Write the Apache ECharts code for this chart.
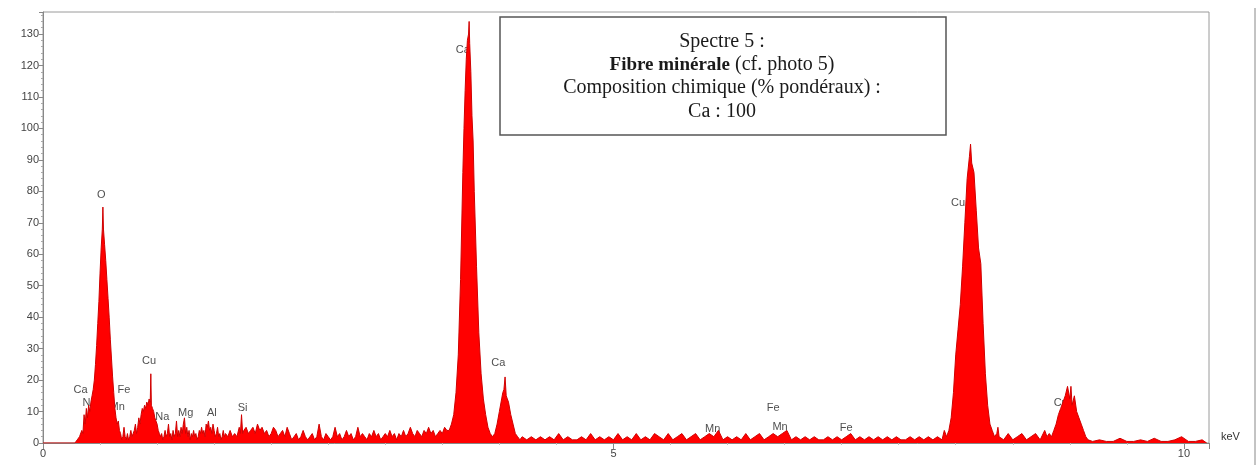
<!DOCTYPE html>
<html>
<head>
<meta charset="utf-8">
<script src="https://cdn.jsdelivr.net/npm/echarts@6/dist/echarts.min.js"></script>
<style>
html,body{margin:0;padding:0;background:#fff}
#main{width:1260px;height:465px}
</style>
</head>
<body>
<div id="main"></div>
<script>
// spectre EDX : [keV, coups]
var lowEnergy = [
    [0,0],[0.28,0],[0.30,1],[0.32,2],[0.34,4],[0.35,3],[0.36,9],[0.37,6],[0.38,11],[0.39,8],
    [0.40,12],[0.41,10],[0.42,13],[0.43,15],[0.44,17],[0.45,20],[0.46,25],[0.47,31],[0.48,38],[0.49,45],
    [0.50,54],[0.51,62],[0.52,68],[0.525,75],[0.53,68],[0.54,63],[0.55,58],[0.56,52],[0.57,46],[0.58,40],
    [0.59,33],[0.60,27],[0.61,21],[0.62,16],[0.63,11],[0.64,8],[0.65,6],[0.66,7],[0.67,4],[0.68,3],
    [0.69,1],[0.70,2],[0.71,5],[0.72,2],[0.73,1],[0.74,3],[0.75,1],[0.76,2],[0.77,4],[0.78,2],
    [0.79,3],[0.80,4],[0.81,6],[0.82,3],[0.83,5],[0.84,8],[0.85,6],[0.86,9],[0.87,11],[0.88,10],
    [0.89,12],[0.90,11],[0.91,13],[0.92,12],[0.93,14],[0.94,13],[0.945,22],[0.95,12],[0.96,11],[0.97,10],
    [0.98,8],[0.99,7],[1.00,6],[1.01,4],[1.02,3],[1.03,2],[1.04,3],[1.05,1],[1.06,2],[1.07,4],
    [1.08,2],[1.09,3],[1.10,6],[1.11,2],[1.12,3],[1.13,1],[1.14,4],[1.15,2],[1.16,3],[1.17,7],
    [1.18,2],[1.19,4],[1.20,2],[1.21,5],[1.22,3],[1.23,6],[1.24,8],[1.25,3],[1.26,5],[1.27,2],
    [1.28,4],[1.29,1],[1.30,3],[1.31,2],[1.32,4],[1.33,2],[1.34,3],[1.35,1],[1.36,2],[1.37,4],
    [1.38,3],[1.39,5],[1.40,3],[1.41,4],[1.42,2],[1.43,6],[1.44,5],[1.45,7],[1.46,4],[1.47,5],
    [1.48,3],[1.49,6],[1.50,4],[1.51,2],[1.52,3],[1.53,5],[1.54,2],[1.55,3],[1.56,1],[1.57,2],
    [1.58,4],[1.59,2],[1.60,3],[1.62,2],[1.64,4],[1.66,2],[1.68,3],[1.70,2],[1.72,5],[1.73,3],
    [1.74,9],[1.75,3],[1.76,4],[1.78,5],[1.80,3]
];
var caRegion = [
    [1.82,4],[1.84,5],[1.86,3],[1.88,6],[1.90,4],[1.92,5],[1.94,3],[1.96,4],[1.98,2],[2.00,3],
    [2.02,5],[2.04,4],[2.06,2],[2.08,3],[2.10,4],[2.12,2],[2.14,5],[2.16,3],[2.18,1],[2.20,2],
    [2.22,3],[2.24,1],[2.26,2],[2.28,4],[2.30,2],[2.32,1],[2.34,2],[2.36,3],[2.38,1],[2.40,2],
    [2.42,6],[2.44,2],[2.46,1],[2.48,3],[2.50,2],[2.52,1],[2.54,2],[2.56,5],[2.58,2],[2.60,3],
    [2.62,1],[2.64,2],[2.66,4],[2.68,2],[2.70,3],[2.72,1],[2.74,2],[2.76,5],[2.78,2],[2.80,3],
    [2.82,2],[2.84,1],[2.86,3],[2.88,2],[2.90,4],[2.92,2],[2.94,3],[2.96,1],[2.98,2],[3.00,3],
    [3.02,2],[3.04,4],[3.06,2],[3.08,3],[3.10,1],[3.12,3],[3.14,2],[3.16,4],[3.18,2],[3.20,3],
    [3.22,5],[3.24,3],[3.26,2],[3.28,4],[3.30,3],[3.32,2],[3.34,4],[3.36,3],[3.38,5],[3.40,3],
    [3.42,4],[3.44,2],[3.46,3],[3.48,4],[3.50,3],[3.52,5],[3.54,4],[3.56,4],[3.58,6],[3.60,9],
    [3.62,16],[3.64,28],[3.66,52],[3.68,86],[3.69,100],[3.70,112],[3.71,122],[3.72,128],[3.73,130],[3.735,134],
    [3.74,127],[3.75,118],[3.76,104],[3.77,96],[3.78,80],[3.80,56],[3.82,35],[3.84,22],[3.86,14],[3.88,9],
    [3.90,5],[3.92,3],[3.94,2],[3.96,3],[3.98,6],[4.00,10],[4.02,14],[4.03,16],[4.04,17],[4.05,21],
    [4.06,15],[4.07,14],[4.08,13],[4.10,9],[4.12,6],[4.14,3],[4.16,2]
];
var midBackground = [
    [4.18,1],[4.20,2],[4.24,1],[4.28,2],[4.32,1],[4.36,2],[4.40,1],[4.44,2],[4.48,1],[4.52,3],
    [4.56,1],[4.60,2],[4.64,1],[4.68,1],[4.72,2],[4.76,1],[4.80,3],[4.84,1],[4.88,2],[4.92,1],
    [4.96,2],[5.00,1],[5.04,3],[5.08,1],[5.12,2],[5.16,1],[5.20,3],[5.24,1],[5.28,2],[5.32,1],
    [5.36,3],[5.40,2],[5.44,1],[5.48,3],[5.52,1],[5.56,2],[5.60,3],[5.64,1],[5.68,2],[5.72,3],
    [5.76,1],[5.80,2],[5.84,3],[5.88,2],[5.92,4],[5.96,1],[6.00,2],[6.04,1],[6.08,2],[6.12,1],
    [6.16,3],[6.20,1],[6.24,2],[6.28,3],[6.32,1],[6.36,2],[6.40,3],[6.44,2],[6.48,3],[6.52,4],
    [6.56,1],[6.60,2],[6.64,1],[6.68,2],[6.72,1],[6.76,2],[6.80,1],[6.84,1],[6.88,2],[6.92,1],
    [6.96,2],[7.00,1],[7.04,2],[7.08,3],[7.12,1],[7.16,2],[7.20,1],[7.24,2],[7.28,1],[7.32,2],
    [7.36,1],[7.40,2],[7.44,1],[7.48,2],[7.52,1],[7.56,1],[7.60,2],[7.64,1],[7.68,2],[7.72,1],
    [7.76,2],[7.80,1],[7.84,2],[7.88,1],[7.90,4],[7.92,2]
];
var cuRegion = [
    [7.94,4],[7.96,8],[7.98,16],[8.00,28],[8.02,36],[8.04,44],[8.06,56],[8.08,70],[8.10,84],[8.12,91],
    [8.13,95],[8.14,89],[8.16,86],[8.18,74],[8.20,62],[8.22,57],[8.24,38],[8.26,22],[8.28,12],[8.30,6],
    [8.32,4],[8.34,2],[8.36,3],[8.37,5],[8.38,2],[8.42,1],[8.46,3],[8.50,1],[8.54,2],[8.58,3],
    [8.62,1],[8.66,2],[8.70,3],[8.74,1],[8.78,4],[8.80,2],[8.82,3],[8.84,2],[8.86,4],[8.88,6],
    [8.90,9],[8.92,11],[8.94,13],[8.96,15],[8.98,18],[9.00,14],[9.01,18],[9.02,12],[9.04,15],[9.06,10],
    [9.08,8],[9.10,6],[9.12,4],[9.14,2],[9.16,1]
];
var tail = [
    [9.20,0.5],[9.26,1],[9.32,0.5],[9.38,0.5],[9.44,1.5],[9.50,0.5],[9.56,0.5],[9.62,1],[9.68,0.5],[9.74,1.5],
    [9.80,0.5],[9.86,0.5],[9.92,1],[9.98,2],[10.04,0.5],[10.10,0.5],[10.16,1],[10.20,0]
];

var peakNames  = ['O','Ca','N','Fe','Mn','Cu','Na','Mg','Al','Si','Ca','Ca','Mn','Fe','Mn','Fe','Cu','Cu'];
var peakKeV    = [0.51,0.33,0.38,0.71,0.65,0.93,1.045,1.25,1.48,1.75,3.68,3.99,5.87,6.40,6.46,7.04,8.02,8.92];
var peakCounts = [78.8,16.8,12.7,16.8,11.4,26,8.3,9.5,9.5,11.1,125,25.4,4.4,11.1,5.1,4.8,76.3,12.7];

var legendLines = ['Spectre 5 :', 'Fibre minérale', ' (cf. photo 5)', 'Composition chimique (% pondéraux) :', 'Ca : 100'];

var spectrum = lowEnergy.concat(caRegion, midBackground, cuRegion, tail);
var labelData = [];
for (var i = 0; i < peakNames.length; i++) {
    labelData.push({name: peakNames[i], value: [peakKeV[i], peakCounts[i]]});
}

var chart = echarts.init(document.getElementById('main'));
var axisFont = {color: '#444', fontSize: 11, fontFamily: 'Liberation Sans'};
var serif = 'Liberation Serif';

chart.setOption({
    animation: false,
    grid: {
        left: 43, top: 12, right: 51, bottom: 22,
        show: true, borderColor: '#9a9a9a', borderWidth: 1
    },
    xAxis: {
        type: 'value',
        min: 0, max: 10.22, interval: 5,
        axisLine: {lineStyle: {color: '#888'}},
        axisTick: {length: 6, lineStyle: {color: '#888'}},
        minorTick: {show: true, splitNumber: 10, length: 2, lineStyle: {color: '#bbb'}},
        axisLabel: Object.assign({margin: 5, showMaxLabel: false}, axisFont),
        splitLine: {show: false}
    },
    yAxis: {
        type: 'value',
        min: 0, max: 137, interval: 10,
        axisLine: {show: true, lineStyle: {color: '#888'}},
        axisTick: {show: true, length: 4, lineStyle: {color: '#888'}},
        minorTick: {show: true, splitNumber: 5, length: 2, lineStyle: {color: '#aaa'}},
        axisLabel: Object.assign({margin: 4, showMaxLabel: false}, axisFont),
        splitLine: {show: false}
    },
    graphic: [
        {type: 'line', shape: {x1: 1255, y1: 8, x2: 1255, y2: 465}, style: {stroke: '#888', lineWidth: 1}},
        {type: 'text', left: 1221, top: 431, style: {text: 'keV', fill: '#333', font: '11px Liberation Sans'}},
        {type: 'rect', shape: {x: 500, y: 17, width: 446, height: 118},
            style: {fill: '#fff', stroke: '#555', lineWidth: 1.5}, z: 10},
        {type: 'text', x: 722, y: 42, z: 11,
            style: {text: legendLines[0], fill: '#1a1a1a', font: '20px ' + serif, align: 'center', verticalAlign: 'middle'}},
        {type: 'text', x: 722, y: 65, z: 11,
            style: {
                text: '{b|' + legendLines[1] + '}{n|' + legendLines[2] + '}',
                align: 'center', verticalAlign: 'middle',
                rich: {
                    b: {fontFamily: serif, fontSize: 19, fontWeight: 'bold', fill: '#1a1a1a'},
                    n: {fontFamily: serif, fontSize: 20, fill: '#1a1a1a'}
                }
            }},
        {type: 'text', x: 722, y: 88, z: 11,
            style: {text: legendLines[3], fill: '#1a1a1a', font: '20px ' + serif, align: 'center', verticalAlign: 'middle'}},
        {type: 'text', x: 722, y: 112, z: 11,
            style: {text: legendLines[4], fill: '#1a1a1a', font: '20px ' + serif, align: 'center', verticalAlign: 'middle'}}
    ],
    series: [
        {
            type: 'scatter',
            z: 1,
            silent: true,
            symbolSize: 1,
            itemStyle: {color: 'rgba(0,0,0,0)'},
            label: {
                show: true, position: 'inside', formatter: '{b}',
                color: '#222', fontSize: 11, fontFamily: 'Liberation Sans'
            },
            data: labelData
        },
        {
            type: 'line',
            z: 3,
            silent: true,
            showSymbol: false,
            sampling: false,
            lineStyle: {color: '#d00000', width: 1},
            areaStyle: {color: '#ff0000', opacity: 1},
            data: spectrum
        }
    ]
});
</script>
</body>
</html>
